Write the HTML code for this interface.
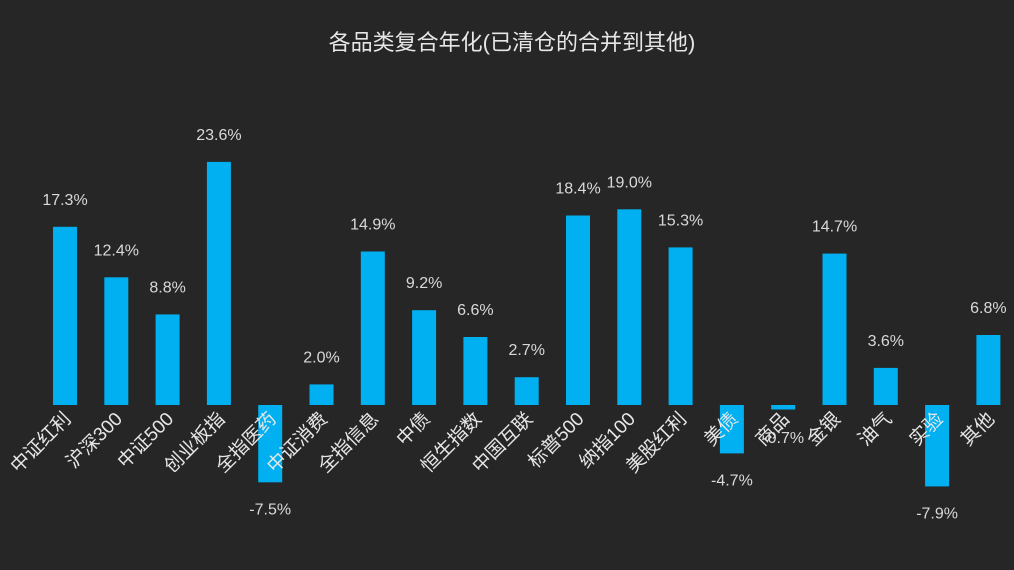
<!DOCTYPE html>
<html><head><meta charset="utf-8"><style>
html,body{margin:0;padding:0;background:#262626;}
svg{display:block;}
text{font-family:"Liberation Sans","Noto Sans CJK SC",sans-serif;}
</style></head><body>
<svg width="1014" height="570" xmlns="http://www.w3.org/2000/svg">
<rect width="1014" height="570" fill="#262626"/>
<text x="512" y="50" fill="#e6e6e6" font-size="22" text-anchor="middle">各品类复合年化(已清仓的合并到其他)</text>
<g fill="#00b0f0">
<rect x="53" y="226.8" width="24" height="178.2"/>
<rect x="104.3" y="277.3" width="24" height="127.7"/>
<rect x="155.6" y="314.4" width="24" height="90.6"/>
<rect x="206.9" y="161.9" width="24" height="243.1"/>
<rect x="258.2" y="405" width="24" height="77.3"/>
<rect x="309.5" y="384.4" width="24" height="20.6"/>
<rect x="360.8" y="251.5" width="24" height="153.5"/>
<rect x="412.1" y="310.2" width="24" height="94.8"/>
<rect x="463.4" y="337" width="24" height="68"/>
<rect x="514.7" y="377.2" width="24" height="27.8"/>
<rect x="566" y="215.5" width="24" height="189.5"/>
<rect x="617.3" y="209.3" width="24" height="195.7"/>
<rect x="668.6" y="247.4" width="24" height="157.6"/>
<rect x="719.9" y="405" width="24" height="48.4"/>
<rect x="771.2" y="405" width="24" height="4.5"/>
<rect x="822.5" y="253.6" width="24" height="151.4"/>
<rect x="873.8" y="367.9" width="24" height="37.1"/>
<rect x="925.1" y="405" width="24" height="81.4"/>
<rect x="976.4" y="335" width="24" height="70"/>
</g>
<g fill="#d9d9d9" font-size="16" text-anchor="middle">
<text x="65" y="204.8">17.3%</text>
<text x="116.3" y="255.3">12.4%</text>
<text x="167.6" y="292.4">8.8%</text>
<text x="218.9" y="139.9">23.6%</text>
<text x="270.2" y="514.3">-7.5%</text>
<text x="321.5" y="362.4">2.0%</text>
<text x="372.8" y="229.5">14.9%</text>
<text x="424.1" y="288.2">9.2%</text>
<text x="475.4" y="315">6.6%</text>
<text x="526.7" y="355.2">2.7%</text>
<text x="578" y="193.5">18.4%</text>
<text x="629.3" y="187.3">19.0%</text>
<text x="680.6" y="225.4">15.3%</text>
<text x="731.9" y="485.4">-4.7%</text>
<text x="783.2" y="443">-0.7%</text>
<text x="834.5" y="231.6">14.7%</text>
<text x="885.8" y="345.9">3.6%</text>
<text x="937.1" y="518.4">-7.9%</text>
<text x="988.4" y="313">6.8%</text>
</g>
<g fill="#e6e6e6" font-size="19" text-anchor="end">
<text transform="translate(72,420) rotate(-45)">中证红利</text>
<text transform="translate(123.3,420) rotate(-45)">沪深300</text>
<text transform="translate(174.6,420) rotate(-45)">中证500</text>
<text transform="translate(225.9,420) rotate(-45)">创业板指</text>
<text transform="translate(277.2,420) rotate(-45)">全指医药</text>
<text transform="translate(328.5,420) rotate(-45)">中证消费</text>
<text transform="translate(379.8,420) rotate(-45)">全指信息</text>
<text transform="translate(431.1,420) rotate(-45)">中债</text>
<text transform="translate(482.4,420) rotate(-45)">恒生指数</text>
<text transform="translate(533.7,420) rotate(-45)">中国互联</text>
<text transform="translate(585,420) rotate(-45)">标普500</text>
<text transform="translate(636.3,420) rotate(-45)">纳指100</text>
<text transform="translate(687.6,420) rotate(-45)">美股红利</text>
<text transform="translate(738.9,420) rotate(-45)">美债</text>
<text transform="translate(790.2,420) rotate(-45)">商品</text>
<text transform="translate(841.5,420) rotate(-45)">金银</text>
<text transform="translate(892.8,420) rotate(-45)">油气</text>
<text transform="translate(944.1,420) rotate(-45)">实验</text>
<text transform="translate(995.4,420) rotate(-45)">其他</text>
</g>
</svg>
</body></html>
